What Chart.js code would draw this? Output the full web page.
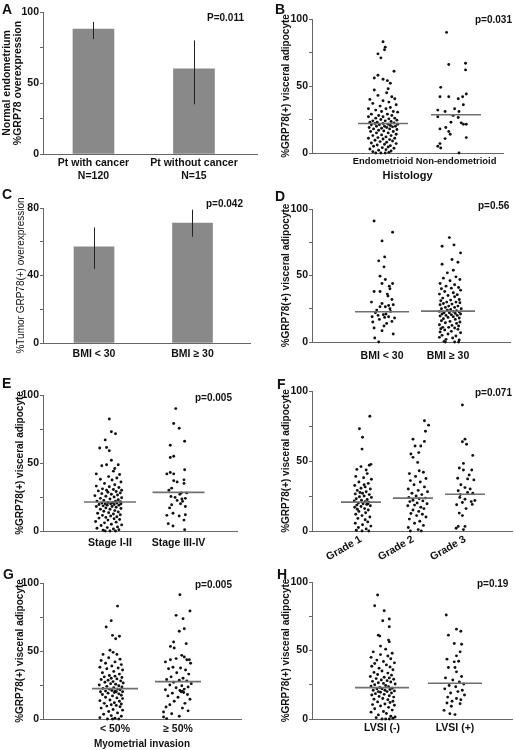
<!DOCTYPE html>
<html><head><meta charset="utf-8">
<script src="https://cdn.jsdelivr.net/npm/chart.js@4/dist/chart.umd.min.js"></script>
<style>
html,body{margin:0;padding:0;background:#fff}
body{width:515px;height:750px;position:relative;overflow:hidden;font-family:'Liberation Sans',Arial,sans-serif}
.pane{position:absolute}
.pane canvas{display:block}
.letter{position:absolute;font-weight:bold;font-size:14px;line-height:14px;color:#111}
.pv{position:absolute;font-weight:bold;font-size:10px;line-height:10px;color:#111;white-space:nowrap}
</style></head><body>

<div class="pane" style="left:0;top:0"><canvas id="cA" width="258" height="183"></canvas></div>
<div class="pane" style="left:258px;top:0"><canvas id="cB" width="257" height="183"></canvas></div>
<div class="pane" style="left:0;top:185px"><canvas id="cC" width="258" height="183"></canvas></div>
<div class="pane" style="left:258px;top:185px"><canvas id="cD" width="257" height="183"></canvas></div>
<div class="pane" style="left:0;top:370px"><canvas id="cE" width="258" height="188"></canvas></div>
<div class="pane" style="left:258px;top:370px"><canvas id="cF" width="257" height="194"></canvas></div>
<div class="pane" style="left:0;top:560px"><canvas id="cG" width="258" height="190"></canvas></div>
<div class="pane" style="left:258px;top:564px"><canvas id="cH" width="257" height="186"></canvas></div>

<div class="letter" style="left:2px;top:2px">A</div>
<div class="letter" style="left:275px;top:2px">B</div>
<div class="letter" style="left:2px;top:187px">C</div>
<div class="letter" style="left:275px;top:189px">D</div>
<div class="letter" style="left:2px;top:376px">E</div>
<div class="letter" style="left:277px;top:377px">F</div>
<div class="letter" style="left:3px;top:567px">G</div>
<div class="letter" style="left:277px;top:567px">H</div>

<div class="pv" style="left:207px;top:13px">P=0.011</div>
<div class="pv" style="left:475px;top:15px">p=0.031</div>
<div class="pv" style="left:206px;top:199px">p=0.042</div>
<div class="pv" style="left:478px;top:201px">p=0.56</div>
<div class="pv" style="left:195px;top:393px">p=0.005</div>
<div class="pv" style="left:475px;top:388px">p=0.071</div>
<div class="pv" style="left:195px;top:580px">p=0.005</div>
<div class="pv" style="left:477px;top:579px">p=0.19</div>

<script>
// ---------------- DATA ----------------
// Panel A: normal endometrium GRP78 overexpression (%)
const aCats = [['Pt with cancer', 'N=120'], ['Pt without cancer', 'N=15']];
const aVals = [88, 60];
const aErrLo = [81, 35];
const aErrHi = [93, 80];

// Panel C: tumor GRP78 overexpression by BMI (%)
const cCats = ['BMI < 30', 'BMI \u2265 30'];
const cVals = [57, 71];
const cErrLo = [44, 63];
const cErrHi = [68.5, 79];

// y-axis ticks (labelled ones and all tick marks)
const pctLabels = [0, 50, 100];
const pctMarks = [0, 25, 50, 75, 100];
const cLabels = [0, 40, 80];
const cMarks = [0, 20, 40, 60, 80];

// Scatter panels: points are [offset within column, % GRP78(+) visceral adipocyte]
const bCats = ['Endometrioid', 'Non-endometrioid'];
const bMedians = [22, 28.5];
const bEndo = [[0.00,83],[0.03,79],[0.02,77],[-0.07,74],[-0.03,71],[0.15,61],[-0.07,58],[-0.12,56],[0.00,55],[0.06,54],[0.10,52],
 [0.07,48],[-0.12,47],[0.05,45],[-0.07,43],[0.12,42],[-0.18,40],[0.16,40.5],
 [0.0,39],[0.08,38],[-0.14,37],[0.18,36],[-0.04,35],[0.1,34],[-0.2,33],[0.04,33],[-0.1,32],[0.14,31],[-0.02,31],[0.2,30.5],
 [-0.16,29],[0.06,29],[-0.06,28],[0.12,28],[0.0,27],[-0.2,27],[0.16,26],[-0.1,26],[0.08,25.5],[-0.03,25],[0.19,24.5],[-0.14,24],[0.03,24],[0.11,23.5],[-0.08,23],[-0.18,23],[0.15,22.5],[0.0,22],[-0.11,22],[0.07,21.5],[0.2,21.5],[-0.05,21],[-0.16,21],[0.1,20.5],[0.02,20],[-0.09,20],[0.17,20],[0.13,19.5],
 [-0.19,19],[0.05,19],[-0.02,18.5],[0.09,18],[-0.13,18],[0.19,17.5],[-0.06,17],[0.01,16.5],[0.14,16],[-0.17,16],[0.07,15],[-0.09,15],[0.18,14],[-0.02,13.5],[0.11,13],[-0.14,13],[0.04,12],[-0.07,11.5],[0.16,11],[-0.2,11],[0.0,10.5],[0.09,10],
 [-0.11,9.5],[0.13,9],[-0.04,8.5],[0.05,8],[-0.16,7.5],[0.18,7],[0.02,6.5],[-0.08,6],[0.1,5.5],[-0.13,5],[0.07,4.5],[-0.01,4],[0.15,3.5],[-0.18,3],[0.04,2.5],[-0.06,2],[0.11,1.5],[-0.14,1],[0.08,0.5],[-0.03,0],[0.03,0],[-0.1,0]];
const bNonEndo = [[-0.13,90],[-0.10,66],[0.13,67],[0.13,62],[-0.21,49],[-0.10,42],[-0.22,42],[0.03,40.5],[0.09,42],[0.14,44],[-0.02,33],[0.10,36],[-0.25,32],[-0.15,31],[0.04,31],[-0.04,28],[0.03,26.5],[-0.25,27],[-0.07,23],[0.07,22.5],[0.10,21.5],[0.14,21.5],[-0.14,19],[-0.22,18],[-0.10,16],[0.14,11.5],[-0.15,10.75],[-0.08,14],[-0.22,7],[-0.25,5],[-0.21,3.75],[0.04,0]];

const dCats = ['BMI < 30', 'BMI \u2265 30'];
const dMedians = [22.75, 23.25];
const dLow = [[-0.12,91],[0.16,82.5],[0.0,76],[0.04,64],[-0.05,61],[0.03,56.5],[-0.03,49.5],[0.05,47],[0.16,44],[0.0,44],[-0.12,38],[-0.03,38],[0.11,42],[0.09,34.5],[0.15,32],[0.0,29],[0.1,27.5],[0.05,26.5],[-0.03,26.5],[0.17,28],[0.12,25],[-0.1,22],[-0.06,20],[0.02,20.5],[-0.15,19],[0.1,19],[-0.04,17],[0.15,15.5],[-0.12,10.5],[0.07,14],[0.0,8.5],[0.17,6],[-0.11,3],[-0.05,0],[0.13,23],[-0.08,24],[0.06,21],[0.19,18],[-0.14,15],[0.03,12],[0.08,36],[-0.16,30],[0.12,40],[0.04,18.5]];
const dHigh = [[0.02,78.5],[-0.09,72],[0.09,73],[0.19,67],[-0.09,58.5],[0.08,54],[0.15,60],[0.06,62],[-0.01,52],
 [0.12,49],[-0.07,48],[0.18,47],[0.03,46],[-0.12,44],[0.1,43],[-0.03,42],[0.16,41],[0.05,40.5],[-0.1,40],
 [0.19,39],[-0.05,38],[0.08,37],[-0.13,36],[0.14,35.5],[0.0,35],[0.1,34],[-0.08,33],[0.17,32],[0.04,31.5],[-0.11,31],[0.12,30],[-0.02,30],
 [0.18,29.5],[-0.07,29],[0.06,28.5],[-0.12,28],[0.15,27],[0.01,27],[-0.04,26],[0.1,26],[0.2,25],[-0.1,25],[0.04,24.5],[-0.01,24],[0.13,23.5],[-0.13,23],[0.08,23],[0.17,22.5],[-0.06,22],[0.02,22],[0.11,21.5],[-0.09,21],[0.19,21],[0.05,20.5],[-0.03,20],[0.14,20],
 [-0.12,19.5],[0.08,19],[0.0,18.5],[0.17,18],[-0.07,17.5],[0.11,17],[-0.1,16],[0.03,15.5],[0.18,15],[-0.04,14.5],[0.13,14],[-0.13,13],[0.06,12.5],[0.16,12],[-0.08,11],[0.01,11],[0.1,10.5],[-0.11,10],
 [0.15,9.5],[-0.05,9],[0.05,8],[-0.12,7.5],[0.19,7],[0.0,6],[-0.09,5],[0.12,4.5],[-0.13,3.5],[0.07,3],[-0.03,2],[0.17,1.5],[-0.06,0.5],[0.1,0],[0.16,0],[-0.04,0]];

const eCats = ['Stage I-II', 'Stage III-IV'];
const eMedians = [21.3, 28.4];
const eEarly = [[-0.01,82.4],[0.02,73],[0.08,71.5],[-0.07,67],[-0.15,61],[-0.05,61.4],[-0.01,59],[0.02,52],[-0.05,48.7],[-0.12,48],[0.12,48.7],[0.07,46],[0.05,44],
 [-0.2,42],[0.14,41.5],[-0.02,40],
 [0.1,39],[-0.14,38],[0.03,37.5],[0.16,36],[-0.08,35],[0.07,34],[-0.2,33],[-0.01,32.5],[0.13,32],[-0.11,31],[0.05,30.5],[0.17,30],[-0.05,30],
 [-0.17,29.5],[0.09,29],[-0.03,28.5],[0.15,28],[-0.12,27.5],[0.02,27],[0.11,26.5],[-0.22,26],[-0.06,25.5],[0.06,25],[0.17,24.5],[-0.14,24],[0.0,23.5],[0.12,23],[-0.09,22.5],[-0.19,22],[0.08,22],[0.15,21.5],[-0.03,21],[0.04,21],[-0.12,20.5],[0.1,20.5],[-0.07,20],[0.01,20],[0.16,20],[-0.16,19.5],[0.06,19.5],
 [-0.04,19],[0.13,19],[-0.1,18.5],[0.03,18],[-0.2,18],[0.09,17.5],[-0.06,17],[0.16,16.5],[0.0,16],[-0.14,16],[0.07,15],[-0.09,14.5],[0.12,14],[-0.02,13.5],[-0.18,13],[0.05,12.5],[0.15,12],[-0.11,11.5],[0.01,11],[0.1,10.5],[-0.06,10],
 [-0.16,9.5],[0.06,9],[0.14,8.5],[-0.03,8],[-0.21,7],[0.09,6.5],[-0.08,6],[0.02,5],[0.17,4.5],[-0.13,4],[0.11,3],[-0.04,2.5],[-0.19,2],[0.05,1.5],[0.13,1],[-0.1,0.5],[0.0,0],[0.08,0],[-0.07,0]];
const eLate = [[-0.04,90],[-0.07,79],[0.01,75.5],[0.09,66],[-0.12,63],[-0.07,55],[-0.12,54],[0.09,45],[-0.12,43],[-0.07,42],[-0.17,42],[0.08,37.6],[-0.07,37],[-0.1,31.5],[0.08,35],[0.04,28],[0.02,27],[-0.11,25.4],[-0.05,24.7],[0.1,24],[0.05,23.5],[-0.02,22.5],[0.06,21.8],[-0.1,19.3],[0.1,18],[-0.08,13],[-0.17,11.5],[0.01,11],[0.08,8],[-0.15,5.4],[-0.08,3.7],[0.09,1],[0.12,28],[-0.14,30],[0.03,20],[-0.02,36],[0.1,12],[-0.13,17]];

const fCats = ['Grade 1', 'Grade 2', 'Grade 3'];
const fMedians = [20.6, 23.5, 26.3];
const fG1 = [[0.17,82],[-0.03,73],[0.03,67],[0.02,58.5],[0.16,47],[0.19,47.6],[0.0,46],[-0.08,44],[0.1,43.6],
 [0.12,41],[-0.1,39],[0.05,38],[0.2,37],[-0.04,35],[0.14,34],[-0.12,32.5],[0.08,31.5],[0.0,30.5],[0.18,30],
 [-0.07,29],[0.1,28],[0.03,27],[-0.11,26.5],[0.16,26],[0.06,25],[-0.03,24.5],[0.2,24],[-0.09,23],[0.12,22.5],[0.01,22],[-0.13,21.5],[0.08,21],[0.15,20.5],[-0.05,20],
 [0.04,19.5],[0.11,19],[-0.08,18.5],[0.18,18],[0.0,17.5],[-0.12,17],[0.07,16],[0.14,15],[-0.04,14],[0.09,13],[-0.1,12],[0.02,11],[0.17,10],
 [-0.06,9],[0.08,8],[0.13,6.5],[-0.11,5.5],[0.03,4.5],[0.19,3.5],[-0.05,2.5],[0.1,1.5],[-0.09,0.5],[0.02,0],[0.15,0],
 [0.06,33],[-0.02,27.5],[0.13,19.2],[-0.07,15.5]];
const fG2 = [[0.22,78.7],[0.3,75.6],[0.24,71.3],[0.0,65.6],[0.22,64],[0.04,60.7],[0.15,60.7],[0.11,56],[-0.04,55],[0.0,52.6],[0.09,49],[0.12,43],[-0.07,41],
 [0.2,42],[0.05,39],[0.25,37.5],[-0.05,36],[0.14,35],[0.02,33],[0.22,31.5],[-0.09,30],[0.1,29],[0.28,28],[-0.02,27],[0.17,26],[0.06,25],[-0.08,24],[0.24,23.5],[0.12,23],[0.0,22],[0.19,21.5],[-0.06,21],[0.08,20],[0.27,19.5],[0.03,18.5],[-0.1,18],[0.15,17],[0.21,16],[0.0,15],[0.11,14],[-0.04,12.5],[0.18,12],[0.07,11],[0.25,10],[-0.07,8.5],[0.13,7],[0.03,5.5],[0.2,4],[-0.09,2.5],[0.1,1],[-0.05,0],[0.16,0]];
const fG3 = [[-0.05,90],[0.0,65.6],[-0.05,63.7],[0.03,62],[0.15,54],[-0.03,48.3],[-0.11,45],[-0.03,43.6],[0.13,43.6],[-0.14,37.7],[0.05,37.2],[0.17,36.5],[-0.08,33],[0.0,31],[0.1,30],[-0.13,28.7],[0.05,27.5],[0.15,27],[-0.1,24],[0.0,22.7],[0.19,21.8],[-0.05,20.4],[0.12,21],[-0.16,18.7],[-0.11,12.8],[-0.05,11],[-0.13,3.3],[0.0,3.3],[-0.17,2],[-0.03,1],[0.08,40],[-0.09,26],[0.14,19],[0.02,16]];

const gCats = ['< 50%', '\u2265 50%'];
const gMedians = [22.3, 27.5];
const gLess = [[0.04,83],[-0.06,72.3],[-0.14,67.6],[-0.04,61.5],[0.07,60.8],[0.01,59],[-0.08,50.5],[-0.03,49],[-0.19,47.5],[0.03,47.5],
 [-0.1,45],[0.08,44],[-0.22,43],[0.0,42],[-0.15,41],[0.1,40],
 [-0.05,39],[-0.24,38],[0.05,37.5],[-0.13,37],[0.12,36],[-0.02,35],[-0.2,34],[0.07,33],[-0.09,32],[0.0,31.5],[-0.17,31],[0.11,30.5],[-0.06,30],
 [0.03,29.5],[-0.22,29],[-0.11,28.5],[0.09,28],[-0.03,27.5],[-0.16,27],[0.13,26.5],[-0.07,26],[0.01,25.5],[-0.25,25],[0.06,24.5],[-0.13,24],[0.11,23.5],[-0.02,23],[-0.19,22.5],[0.04,22],[-0.09,22],[0.08,21.5],[-0.05,21],[0.0,20.5],[-0.15,20.5],[0.12,20],[-0.23,20],[0.02,20],[-0.01,19.5],
 [-0.11,19],[0.06,18.5],[-0.2,18],[0.1,17.5],[-0.04,17],[-0.15,16],[0.03,15.5],[0.12,15],[-0.08,14],[-0.24,13.5],[0.07,13],[-0.01,12],[-0.17,11.5],[0.1,11],[-0.06,10.5],[0.02,10],
 [-0.13,9.5],[0.08,9],[-0.22,8],[-0.03,7],[0.12,6.5],[-0.1,5.5],[0.04,4.5],[-0.18,3.5],[-0.06,2.5],[0.1,2],[-0.24,1],[0.0,0.5],[-0.12,0],[0.06,0],[-0.04,0]];
const gMore = [[0.03,91.4],[0.19,79.4],[-0.03,76.2],[0.08,73.8],[0.1,66.4],[0.02,64.5],[-0.07,56.6],[0.13,55.4],[-0.12,53.4],[-0.06,52.2],[0.06,46.8],[-0.03,44.4],[0.18,43.6],[0.14,43.6],[-0.12,43.6],[0.1,45.6],
 [-0.2,42],[0.2,41],[-0.08,38],[0.04,37.5],[-0.15,37],[0.12,36],[-0.02,34],[0.17,33],[-0.11,31],[0.08,30],
 [-0.18,29],[0.02,28.5],[0.14,28],[-0.07,27],[0.21,26],[-0.13,25],[0.06,24.5],[0.16,23.5],[-0.03,23],[0.1,22],[-0.2,21.5],[0.03,21],[0.07,20.5],[0.05,20],[0.09,19.5],[-0.09,19],
 [0.15,18],[-0.16,17],[0.0,16],[0.19,14.5],[-0.06,13],[0.11,11.5],[-0.13,10.5],
 [-0.19,8.8],[0.07,8],[-0.23,5.1],[0.16,6],[-0.1,3.9],[-0.23,1.5],[-0.18,0.3],[0.02,2]];

const hCats = ['LVSI (-)', 'LVSI (+)'];
const hMedians = [22.9, 26.1];
const hNeg = [[-0.06,90.5],[-0.1,82.7],[0.03,79],[0.1,73],[0.01,71.7],[0.1,67.3],[-0.05,61.2],[-0.03,60.5],[0.09,57.6],[0.1,56.3],[-0.02,53.2],
 [0.05,51],[-0.12,49],[0.14,48],[-0.02,47],[0.08,46],[-0.15,45],[0.12,44],[-0.07,43],[0.02,42],[0.17,41],[-0.1,40.5],
 [0.06,39.5],[-0.14,38.5],[0.11,38],[-0.04,37],[0.15,36],[0.0,35],[-0.11,34],[0.08,33.5],[-0.06,32.5],[0.13,32],[-0.16,31],[0.03,30.5],[0.1,30],
 [-0.08,29.5],[0.16,29],[-0.01,28.5],[0.07,28],[-0.13,27.5],[0.12,27],[-0.05,26.5],[0.02,26],[0.18,25.5],[-0.1,25],[0.05,24.5],[-0.15,24],[0.09,23.5],[-0.03,23],[0.14,22.5],[0.0,22],[-0.07,22],[0.11,21.5],[-0.12,21],[0.04,21],[0.17,20.5],[-0.05,20],[0.07,20],[-0.02,19.5],
 [0.13,19],[-0.09,18.5],[0.03,18],[-0.14,17.5],[0.1,17],[-0.04,16.5],[0.16,16],[0.01,15],[-0.11,14.5],[0.08,14],[0.15,13],[-0.06,12.5],[0.11,12],[0.04,11],[-0.13,10.5],[0.17,10],
 [-0.02,9.5],[0.09,8.5],[-0.1,7.5],[0.14,6.5],[0.02,5.5],[-0.15,5],[0.06,4],[-0.05,3],[0.12,2],[0.18,1.5],[-0.08,1],[0.0,0],[0.05,0],[0.1,0],[0.15,0.5]];
const hPos = [[-0.12,75.9],[-0.09,61.2],[0.02,65.6],[0.08,64.1],[0.09,54.6],[-0.01,55.1],[0.07,49],[0.02,46.1],[-0.11,43.7],[-0.01,41.7],[0.05,42.2],[-0.09,37.6],[0.0,37.6],[0.02,34.4],[-0.15,6.3],[-0.07,3.9],[0.0,3.2],[-0.05,9.3],[0.07,11.2],[-0.11,11.7],
 [0.09,31],[-0.13,30],[-0.03,28.5],[0.06,27],[0.12,25.5],[-0.08,24.5],[0.01,23.5],[-0.14,22],[0.1,21],[0.04,20],[-0.06,19],[0.13,17.5],[-0.1,16],[0.02,15],[0.08,14],[-0.04,13]];

// ---------------- RENDERING ----------------
Chart.defaults.font.family = "'Liberation Sans', Arial, sans-serif";
Chart.defaults.color = '#111';
Chart.defaults.animation = false;
Chart.defaults.plugins.legend.display = false;
Chart.defaults.plugins.tooltip.enabled = false;

const AXIS = '#666666';

const overlay = {
  id: 'overlay',
  afterDatasetsDraw(chart, args, o) {
    const ctx = chart.ctx, xs = chart.scales.x, ys = chart.scales.y;
    ctx.save();
    if (o.medians) {
      ctx.strokeStyle = '#707070';
      ctx.lineWidth = 1.6;
      o.medians.forEach((m, i) => {
        const cx = xs.getPixelForValue(i + 1), y = ys.getPixelForValue(m);
        ctx.beginPath(); ctx.moveTo(cx - o.half, y); ctx.lineTo(cx + o.half, y); ctx.stroke();
      });
    }
    if (o.lo) {
      ctx.strokeStyle = '#222';
      ctx.lineWidth = 1;
      o.lo.forEach((l, i) => {
        const cx = Math.round(xs.getPixelForValue(i + 1)) + 0.5;
        ctx.beginPath(); ctx.moveTo(cx, ys.getPixelForValue(o.hi[i])); ctx.lineTo(cx, ys.getPixelForValue(l)); ctx.stroke();
      });
    }
    ctx.restore();
  }
};

function scales(p) {
  return {
    x: {
      type: 'linear', min: p.xmin, max: p.xmax, offset: false, grace: 0,
      afterBuildTicks: s => { s.ticks = p.cats.map((c, i) => ({ value: i + 1 })); },
      ticks: { callback: (v, i) => p.cats[i], font: { size: p.xfs || 10.5, weight: 'bold' }, padding: p.tp, autoSkip: false,
               maxRotation: p.rot || 0, minRotation: p.rot || 0, color: '#111' },
      grid: { display: true, drawOnChartArea: false, drawTicks: false },
      border: { display: true, color: AXIS, width: 1 },
      title: p.xtitle ? { display: true, text: p.xtitle, font: { size: p.xtSize, weight: 'bold' }, padding: 0, color: '#111' } : { display: false },
      afterFit: s => { s.height = p.xH; }
    },
    y: {
      min: 0, max: p.marks[p.marks.length - 1],
      afterBuildTicks: s => { s.ticks = p.marks.map(v => ({ value: v })); },
      ticks: { callback: v => (p.labels.includes(v) ? String(v) : ''), font: { size: 10.5, weight: 'bold' }, padding: 1, color: '#111', autoSkip: false },
      grid: { display: true, drawOnChartArea: false, drawTicks: true, tickLength: 3, color: AXIS, lineWidth: 1 },
      border: { display: true, color: AXIS, width: 1 },
      title: { display: true, text: p.ytitle, font: p.ytFont, padding: { top: p.ytPad, bottom: 0 }, color: '#111' },
      afterFit: s => { s.width = p.yW; }
    }
  };
}

function barChart(id, p, vals, lo, hi) {
  new Chart(document.getElementById(id), {
    type: 'bar',
    data: { datasets: [{ data: vals.map((v, i) => ({ x: i + 1, y: v })), backgroundColor: '#898989', borderWidth: 0, barThickness: p.bw }] },
    options: {
      responsive: false, devicePixelRatio: 1,
      layout: { padding: { top: p.pt, right: p.pr, left: 0, bottom: 0 } },
      scales: scales(p),
      plugins: { overlay: { lo: lo, hi: hi } }
    },
    plugins: [overlay]
  });
}

function dotChart(id, p, groups, medians) {
  new Chart(document.getElementById(id), {
    type: 'scatter',
    data: { datasets: groups.map((g, gi) => ({
      data: g.map(pt => ({ x: gi + 1 + pt[0], y: pt[1] })),
      pointRadius: 1.45, pointBackgroundColor: '#111', pointBorderWidth: 0, pointHoverRadius: 1.45, clip: 6
    })) },
    options: {
      responsive: false, devicePixelRatio: 1,
      layout: { padding: { top: p.pt, right: p.pr, left: 0, bottom: 0 } },
      scales: scales(p),
      plugins: { overlay: { medians: medians, half: p.half } }
    },
    plugins: [overlay]
  });
}

const yT = '%GRP78(+) visceral adipocyte';
const yFont = { size: 10, weight: 'bold', lineHeight: 1.1 };
const P = { labels: pctLabels, marks: pctMarks };

barChart('cA', { cats: aCats, labels: pctLabels, marks: pctMarks, xmin: 0.498, xmax: 2.637, pt: 12, pr: 0, yW: 43, xH: 29, tp: 3, bw: 41,
  ytitle: ['Normal endometrium', '%GRP78 overexpression'], ytFont: { size: 10.5, weight: 'bold', lineHeight: 1.05 }, ytPad: 2 },
  aVals, aErrLo, aErrHi);

dotChart('cB', { ...P, cats: bCats, xmin: 0.027, xmax: 2.643, pt: 19, pr: 12, yW: 54, xH: 30, tp: 3, half: 25, xfs: 9.4,
  ytitle: yT, ytFont: yFont, ytPad: 23, xtitle: 'Histology', xtSize: 11 }, [bEndo, bNonEndo], bMedians);

barChart('cC', { cats: cCats, labels: cLabels, marks: cMarks, xmin: 0.482, xmax: 2.584, pt: 23, pr: 8, yW: 43, xH: 25, tp: 5, bw: 40,
  ytitle: '%Tumor GRP78(+) overexpression', ytFont: { size: 10, weight: 'normal', lineHeight: 1.1 }, ytPad: 16 },
  cVals, cErrLo, cErrHi);

dotChart('cD', { ...P, cats: dCats, xmin: -0.061, xmax: 2.939, pt: 24, pr: 5, yW: 54, xH: 26, tp: 8, half: 27,
  ytitle: yT, ytFont: yFont, ytPad: 23 }, [dLow, dHigh], dMedians);

dotChart('cE', { ...P, cats: eCats, xmin: 0.022, xmax: 2.854, pt: 25, pr: 21, yW: 43, xH: 27, tp: 6, half: 26,
  ytitle: yT, ytFont: yFont, ytPad: 15 }, [eEarly, eLate], eMedians);

dotChart('cF', { ...P, cats: fCats, xmin: 0.058, xmax: 3.904, pt: 21, pr: 3, yW: 54, xH: 33, tp: 2, half: 20, rot: 30,
  ytitle: yT, ytFont: yFont, ytPad: 23 }, [fG1, fG2, fG3], fMedians);

dotChart('cG', { ...P, cats: gCats, xmin: -0.143, xmax: 3.0, pt: 23, pr: 17, yW: 43, xH: 31, tp: 4, half: 23,
  ytitle: yT, ytFont: yFont, ytPad: 15, xtitle: 'Myometrial invasion', xtSize: 10 }, [gLess, gMore], gMedians);

dotChart('cH', { ...P, cats: hCats, xmin: 0.041, xmax: 2.781, pt: 18, pr: 3, yW: 54, xH: 31, tp: 3, half: 27,
  ytitle: yT, ytFont: yFont, ytPad: 23 }, [hNeg, hPos], hMedians);
</script>
</body></html>
